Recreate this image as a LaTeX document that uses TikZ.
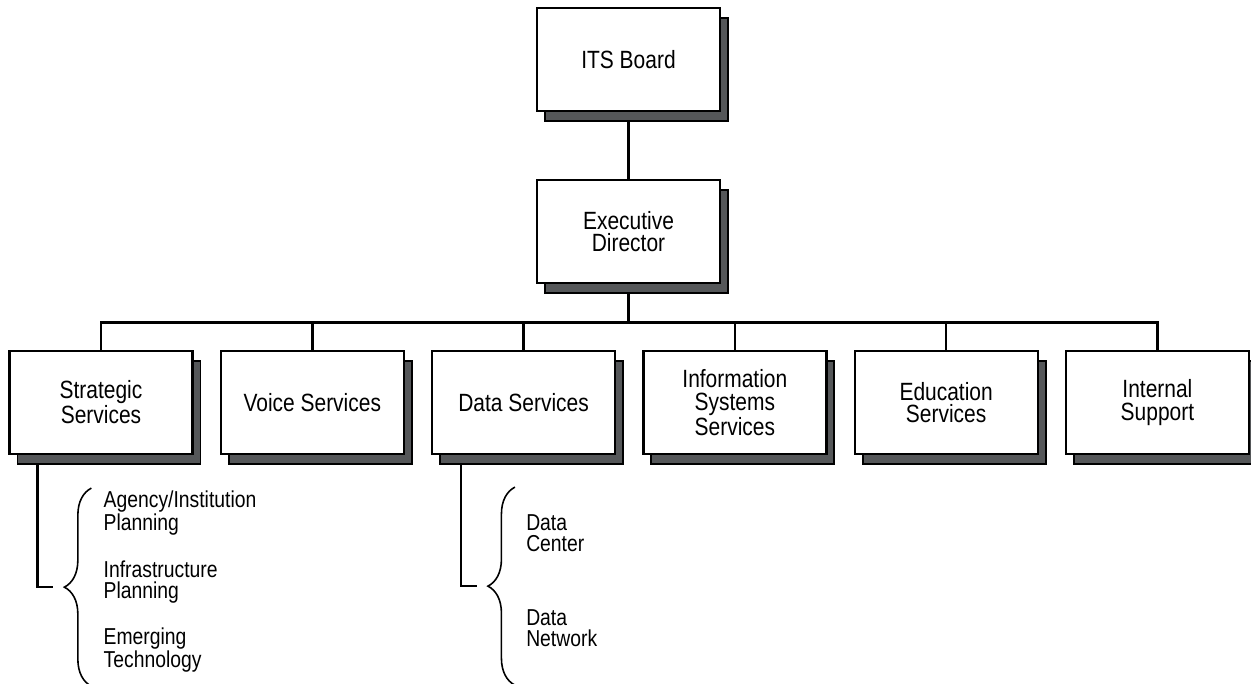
\documentclass[tikz,border=0pt]{standalone}
\usepackage{fontspec}
\setmainfont{Liberation Sans}[FakeStretch=0.84]
\usetikzlibrary{positioning, shadows, backgrounds, decorations.pathreplacing}
\definecolor{shadowgray}{RGB}{85,87,89}

\begin{document}
\begin{tikzpicture}[
  every node/.style={align=center},
  unit/.style ={rectangle, draw, fill=white, line width=1.3pt, minimum width=3.66cm, minimum height=2.06cm, inner sep=2pt,
                font=\fontsize{14.2pt}{12.8pt}\selectfont,
                drop shadow={shadow xshift=0.16cm, shadow yshift=-0.2cm, fill=shadowgray, draw=black, line width=1pt, opacity=1}},
  sub/.style  ={align=left, inner sep=0pt, font=\fontsize{13.1pt}{11.8pt}\selectfont},
  link/.style ={line width=1.4pt},
  curly/.style={decorate, decoration={brace, amplitude=0.54cm}, line width=0.9pt}
]
\useasboundingbox (0,0) rectangle (25.02,-13.68);

%% Board and director
\node[unit] (its) at (12.57,-1.19) {ITS Board};
\node[unit, below=1.34cm of its] (exec) {Executive\\Director};

%% Division row (left to right)
\node[unit] (strat) at (2.02,-8.05) {Strategic\\Services};
\node[unit, right=0.52cm of strat] (voice) {Voice Services};
\node[unit, right=0.52cm of voice] (data)  {Data Services};
\node[unit, right=0.52cm of data]  (info)  {Information\\Systems\\Services};
\node[unit, right=0.52cm of info]  (edu)   {Education\\Services};
\node[unit, right=0.52cm of edu]   (intl)  {Internal\\Support};

%% Brace tips under Strategic and Data
\coordinate (sstip) at ([xshift=1.12cm, yshift=-2.64cm]strat.south west);
\coordinate (dstip) at ([xshift=1.14cm, yshift=-2.62cm]data.south west);

%% Strategic Services sub-units
\node[sub, right=0.78cm of sstip, yshift=1.48cm]  (agency) {Agency/Institution\\Planning};
\node[sub, right=0.78cm of sstip, yshift=0.1cm]   (infra)  {Infrastructure\\Planning};
\node[sub, right=0.78cm of sstip, yshift=-1.26cm] (emerg)  {Emerging\\Technology};

%% Data Services sub-units
\node[sub, right=0.76cm of dstip, yshift=1.06cm]  (dctr) {Data\\Center};
\node[sub, right=0.76cm of dstip, yshift=-0.84cm] (dnet) {Data\\Network};

%% Braces
\draw[curly] ([xshift=0.54cm, yshift=-1.98cm]sstip) -- ([xshift=0.54cm, yshift=1.98cm]sstip);
\draw[curly] ([xshift=0.54cm, yshift=-1.98cm]dstip) -- ([xshift=0.54cm, yshift=1.98cm]dstip);

%% Connectors (behind the boxes and shadows)
\begin{scope}[on background layer]
  \draw[link] (its) -- (exec);
  \foreach \b in {strat,voice,data,info,edu,intl}{
    \draw[link] (exec.south) -- ++(0,-0.76) -| (\b.north);
  }
  \draw[link] ([xshift=0.58cm]strat.south west) |- ([xshift=-0.22cm]sstip);
  \draw[link] ([xshift=0.6cm]data.south west)   |- ([xshift=-0.22cm]dstip);
\end{scope}

\end{tikzpicture}
\end{document}
